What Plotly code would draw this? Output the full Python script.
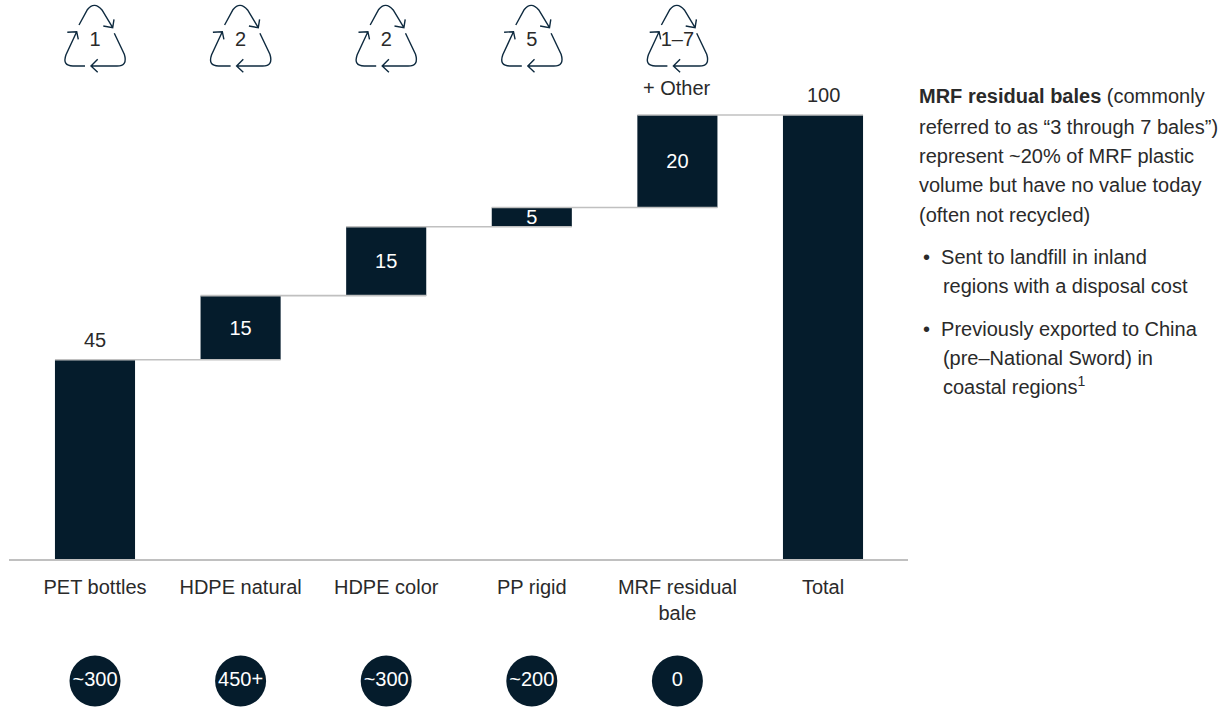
import plotly.graph_objects as go

categories = ["PET bottles", "HDPE natural", "HDPE color", "PP rigid", "MRF residual<br>bale", "Total"]
bar_heights = [45.0, 14.4, 15.5, 4.3, 20.8, 100.0]
bar_bases = [0.0, 45.0, 59.4, 74.9, 79.2, 0.0]
bar_labels = ["45", "15", "15", "5", "20", "100"]
resin_codes = ["1", "2", "2", "5", "1–7"]
bubble_values = ["~300", "450+", "~300", "~200", "0"]
note_lines = [
    "<b>MRF residual bales</b> (commonly",
    "referred to as “3 through 7 bales”)",
    "represent ~20% of MRF plastic",
    "volume but have no value today",
    "(often not recycled)",
    "\u2009•  Sent to landfill in inland",
    "\u200a    regions with a disposal cost",
    "\u2009•  Previously exported to China",
    "\u200a    (pre–National Sword) in",
    "\u200a    coastal regions<sup>1</sup>",
]
note_y_px = [96, 127, 156, 185, 215, 257, 286, 329, 358, 386]

W, H = 1231, 711
NAVY = "#051c2c"
INK = "#2a2a2a"
GREY = "#c0c0c0"
FONT = "Liberation Sans"
FS = 20
BAR_W = 0.55
PX_PER_UNIT = 4.45
BASE_PX = 560
STEP_PX = 145.6
X0_PX = 95
LEFT_PX, RIGHT_PX = 9, 908

x = list(range(len(categories)))
x_range = [(LEFT_PX - X0_PX) / STEP_PX, (RIGHT_PX - X0_PX) / STEP_PX]
y_range = [-(H - BASE_PX) / PX_PER_UNIT, BASE_PX / PX_PER_UNIT]
bubble_y = -(681 - BASE_PX) / PX_PER_UNIT
icon_y = (BASE_PX - 40) / PX_PER_UNIT
code_y = (BASE_PX - 41) / PX_PER_UNIT
outside = {0, 5}

fig = go.Figure()

fig.add_trace(go.Bar(
    x=x, y=bar_heights, base=bar_bases, width=BAR_W,
    marker=dict(color=NAVY, line=dict(width=0)),
    text=bar_labels,
    textposition=["none" if i in outside else "inside" for i in x],
    insidetextanchor="middle", textangle=0, constraintext="none",
    insidetextfont=dict(family=FONT, size=FS, color="white"),
    cliponaxis=False, showlegend=False))

# connectors run from the top of one bar along to the top of the next
for i in range(len(x) - 1):
    level = bar_bases[i] + bar_heights[i]
    fig.add_trace(go.Scatter(
        x=[x[i] - BAR_W / 2, x[i + 1] + BAR_W / 2], y=[level, level],
        mode="lines", line=dict(color=GREY, width=1.6),
        showlegend=False, hoverinfo="skip"))

# value bubbles below the axis
fig.add_trace(go.Scatter(
    x=x[:len(bubble_values)], y=[bubble_y] * len(bubble_values),
    mode="markers+text", text=bubble_values, textposition="middle center",
    textfont=dict(family=FONT, size=FS, color="white"),
    marker=dict(size=51, color=NAVY, line=dict(width=0)),
    cliponaxis=False, showlegend=False))

# resin codes inside the recycling icons
fig.add_trace(go.Scatter(
    x=x[:len(resin_codes)], y=[code_y] * len(resin_codes),
    mode="text", text=resin_codes, textposition="middle center",
    textfont=dict(family=FONT, size=FS, color=INK),
    cliponaxis=False, showlegend=False))


def icon_path():
    def p(a, b):
        return f"{a:.1f},{b:.1f}"
    return " ".join([
        "M", p(-16, 15), "L", p(-7.5, 30.5), "Q", p(-0.7, 39), p(7, 30), "L", p(17.7, 12.3),
        "M", p(19, 20.7), "L", p(17.7, 12.3), "L", p(8.3, 14),
        "M", p(-27.7, 7.7), "L", p(-18.3, 8.3), "L", p(-16.7, 0.7),
        "M", p(-18.3, 8.3), "L", p(-29, -14.7), "Q", p(-33, -26), p(-22, -26), "L", p(-10, -26),
        "M", p(2.7, -19.3), "L", p(-4, -26), "L", p(2.7, -32.3),
        "M", p(-4, -26), "L", p(22, -26), "Q", p(33, -26), p(29.3, -14.3), "L", p(19.3, 6.7),
    ])


shapes = []
for i in range(len(resin_codes)):
    shapes.append(dict(
        type="path", xref="x", yref="y",
        xsizemode="pixel", ysizemode="pixel",
        xanchor=x[i], yanchor=icon_y,
        path=icon_path(),
        line=dict(color="#0e2a3f", width=1.4),
        layer="above"))

annotations = [dict(
    x=x[4], y=(BASE_PX - 88) / PX_PER_UNIT, xref="x", yref="y",
    text="+ Other", showarrow=False, xanchor="center", yanchor="middle",
    font=dict(family=FONT, size=FS, color=INK))]

for i in sorted(outside):
    annotations.append(dict(
        x=x[i], y=bar_bases[i] + bar_heights[i], xref="x", yref="y",
        text=bar_labels[i], showarrow=False, xanchor="center", yanchor="middle",
        yshift=20, font=dict(family=FONT, size=FS, color=INK)))

for line, ypx in zip(note_lines, note_y_px):
    annotations.append(dict(
        x=(917 - LEFT_PX) / (RIGHT_PX - LEFT_PX), y=1 - ypx / H, xref="paper", yref="paper",
        xanchor="left", yanchor="middle", align="left",
        text=line, showarrow=False,
        font=dict(family=FONT, size=FS, color=INK)))

fig.update_layout(
    width=W, height=H, autosize=False,
    margin=dict(l=LEFT_PX, r=W - RIGHT_PX, t=0, b=0, pad=0),
    paper_bgcolor="white", plot_bgcolor="white",
    barmode="overlay", showlegend=False,
    shapes=shapes, annotations=annotations,
    xaxis=dict(range=x_range, tickmode="array", tickvals=x, ticktext=categories,
               showgrid=False, zeroline=False, showline=True, linecolor=GREY, linewidth=1.6,
               ticks="", ticklabelstandoff=9, anchor="free", position=(H - BASE_PX) / H,
               tickfont=dict(family=FONT, size=FS, color=INK)),
    yaxis=dict(range=y_range, visible=False, showgrid=False, zeroline=False),
)

fig.write_html("out.html", config={"displayModeBar": False},
               post_script="document.body.style.margin='0';")
